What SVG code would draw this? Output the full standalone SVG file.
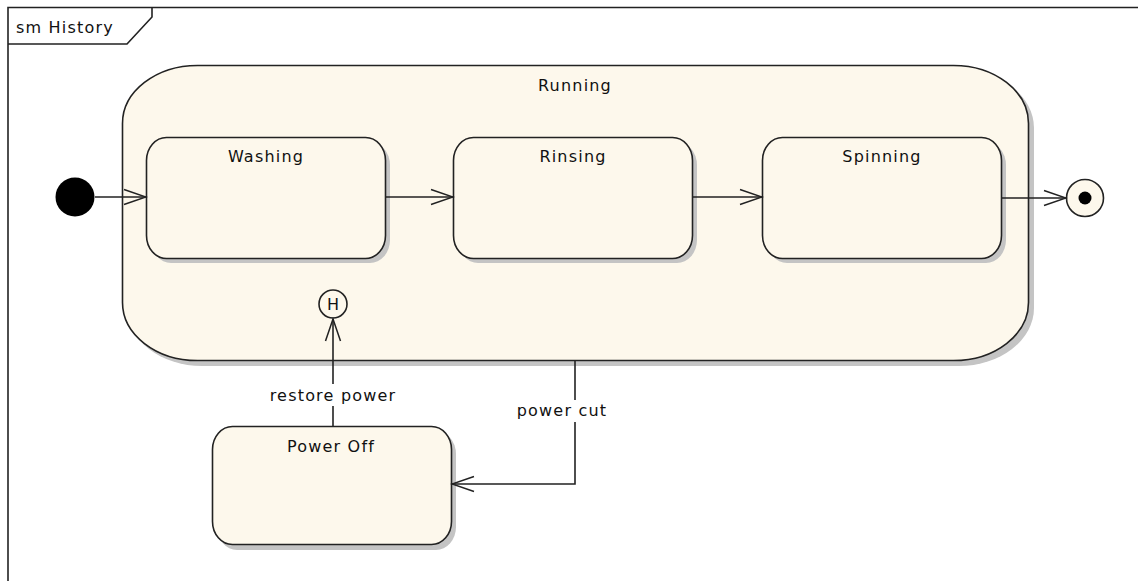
<svg xmlns="http://www.w3.org/2000/svg" width="1138" height="581" viewBox="0 0 1138 581">
<style>
.t{font-family:"DejaVu Sans",Verdana,sans-serif;font-size:16px;letter-spacing:1.2px;fill:#111}
.c{text-anchor:middle}
.st{fill:#FDF8EC;stroke:#222;stroke-width:1.6}
.sh{fill:#C4C4C4}
.ln{fill:none;stroke:#222;stroke-width:1.6}
</style>
<defs>
<marker id="ah" markerUnits="userSpaceOnUse" viewBox="-24 -10 26 20" markerWidth="26" markerHeight="20" refX="0" refY="0" orient="auto">
<path d="M-22,-7.5 L0,0 L-22,7.5" fill="none" stroke="#222" stroke-width="1.5"/>
</marker>
</defs>
<rect width="1138" height="581" fill="#fff"/>
<g id="frame">
<path d="M8,581 V7.5 H1138" fill="none" stroke="#222" stroke-width="1.6"/>
<path d="M8,44 H127 L152,17 V7.5" fill="none" stroke="#222" stroke-width="1.6"/>
<text class="t" x="16" y="33">sm History</text>
</g>
<g id="running">
<rect class="sh" x="127" y="70" width="907" height="296" rx="75" ry="58"/>
<rect class="st" x="122.5" y="65.5" width="906" height="295" rx="75" ry="58"/>
<text class="t c" x="575" y="91">Running</text>
</g>
<g id="washing">
<rect class="sh" x="151" y="142" width="239" height="121" rx="20" ry="23"/>
<rect class="st" x="146.5" y="137.5" width="239" height="121" rx="20" ry="23"/>
<text class="t c" x="266" y="162">Washing</text>
</g>
<g id="rinsing">
<rect class="sh" x="458" y="142" width="239" height="121" rx="20" ry="23"/>
<rect class="st" x="453.5" y="137.5" width="239" height="121" rx="20" ry="23"/>
<text class="t c" x="573" y="162">Rinsing</text>
</g>
<g id="spinning">
<rect class="sh" x="767" y="142" width="239" height="121" rx="20" ry="23"/>
<rect class="st" x="762.5" y="137.5" width="239" height="121" rx="20" ry="23"/>
<text class="t c" x="882" y="162">Spinning</text>
</g>
<g id="poweroff">
<rect class="sh" x="217" y="431" width="239" height="119" rx="20" ry="23"/>
<rect class="st" x="212.5" y="426.5" width="239" height="118" rx="20" ry="23"/>
<text class="t c" x="331" y="452">Power Off</text>
</g>
<g id="initial">
<circle cx="75" cy="197" r="19.5" fill="#000"/>
</g>
<g id="final">
<circle cx="1085" cy="198" r="18.5" fill="#FDF8EC" stroke="#222" stroke-width="1.6"/>
<circle cx="1085" cy="198" r="6.5" fill="#000"/>
</g>
<g id="history">
<circle cx="333" cy="304" r="14" fill="#FDF8EC" stroke="#222" stroke-width="1.6"/>
<text x="333" y="310" text-anchor="middle" font-family="DejaVu Sans,sans-serif" font-size="16" fill="#111">H</text>
</g>
<g id="connectors">
<line class="ln" x1="95" y1="197" x2="146" y2="197" marker-end="url(#ah)"/>
<line class="ln" x1="386" y1="197" x2="453" y2="197" marker-end="url(#ah)"/>
<line class="ln" x1="693" y1="197" x2="762" y2="197" marker-end="url(#ah)"/>
<line class="ln" x1="1002" y1="198" x2="1066" y2="198" marker-end="url(#ah)"/>
<path class="ln" d="M575,361 V484 H452" marker-end="url(#ah)"/>
<path class="ln" d="M333,426 V319" marker-end="url(#ah)"/>
<rect x="512" y="400" width="100" height="22" fill="#fff"/>
<text class="t c" x="562" y="416">power cut</text>
<rect x="268" y="384" width="130" height="22" fill="#fff"/>
<text class="t c" x="333" y="401">restore power</text>
</g>
</svg>
